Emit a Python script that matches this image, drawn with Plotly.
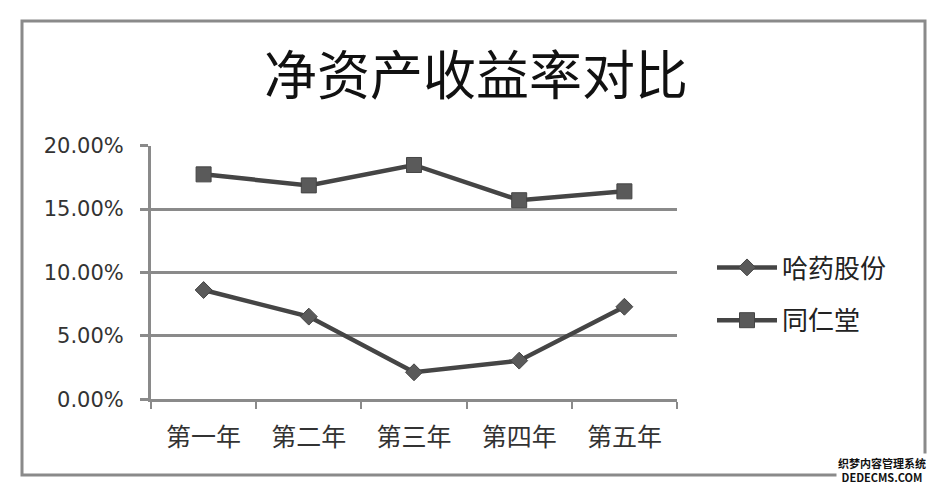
import plotly.graph_objects as go

# 净资产收益率对比 - values
years = ["第一年", "第二年", "第三年", "第四年", "第五年"]
hayao = [0.0862, 0.0652, 0.0213, 0.0305, 0.0730]      # 哈药股份
tongrentang = [0.1774, 0.1687, 0.1848, 0.1570, 0.1640]  # 同仁堂
y_ticks = [0, 0.05, 0.10, 0.15, 0.20]

W, H = 943, 490
OFF = 8  # page body margin shifts the figure by this much
cjk = "Noto Sans CJK SC, sans-serif"
num = "DejaVu Sans, sans-serif"


def fx(px):
    return (px - OFF) / W


def fy(py):
    return 1 - (py - OFF) / H


fig = go.Figure()

fig.add_trace(go.Scatter(
    x=years, y=hayao, name="哈药股份", legendgroup="a",
    mode="lines+markers",
    line=dict(color="#454545", width=4.5),
    marker=dict(symbol="diamond", size=13, color="#5a5a5a",
                line=dict(color="#444444", width=1)),
))
fig.add_trace(go.Scatter(
    x=years, y=tongrentang, name="同仁堂", legendgroup="b",
    mode="lines+markers",
    line=dict(color="#454545", width=4.5),
    marker=dict(symbol="square", size=15, color="#5a5a5a",
                line=dict(color="#444444", width=1)),
))

# outer chart border
fig.add_shape(type="rect", xref="paper", yref="paper",
              x0=fx(22), x1=fx(925), y0=fy(475), y1=fy(21),
              line=dict(color="#8a8a8a", width=3), fillcolor="rgba(0,0,0,0)")

# site watermark in the bottom-right corner
fig.add_annotation(text="<b>织梦内容管理系统</b><br><b>DEDECMS.COM</b>",
                   xref="paper", yref="paper",
                   x=fx(882), y=fy(470), xanchor="center", yanchor="middle",
                   showarrow=False, bgcolor="white", align="center",
                   font=dict(size=11, color="#111111", family=cjk))

fig.update_layout(
    width=W, height=H,
    margin=dict(l=0, r=0, t=0, b=0, autoexpand=False),
    paper_bgcolor="white", plot_bgcolor="white",
    font=dict(family=cjk, color="#222222"),
    title=dict(text="净资产收益率对比", x=fx(476), xanchor="center",
               y=fy(76), yanchor="middle",
               font=dict(size=53, color="#111111", family=cjk)),
    xaxis=dict(
        domain=[fx(151), fx(677)], automargin=False,
        range=[-0.5, len(years) - 0.5],
        showline=True, linecolor="#8a8a8a", linewidth=3,
        ticks="outside", tickson="boundaries", ticklen=7, tickwidth=2,
        tickcolor="#8a8a8a", showgrid=False, ticklabelstandoff=14,
        tickfont=dict(size=25, color="#333333", family=cjk),
    ),
    yaxis=dict(
        domain=[fy(399.3), fy(145.7)], automargin=False,
        range=[0, 0.2], tickvals=y_ticks, tickformat=".2%",
        showline=True, linecolor="#8a8a8a", linewidth=3,
        ticks="outside", ticklen=8, tickwidth=3, tickcolor="#8a8a8a",
        showgrid=True, gridcolor="#8a8a8a", gridwidth=3,
        zeroline=False, ticklabelstandoff=12,
        tickfont=dict(size=21, color="#333333", family=num),
    ),
    legend=dict(x=fx(712), xanchor="left", y=fy(294), yanchor="middle",
                tracegroupgap=16, itemwidth=60, bgcolor="rgba(0,0,0,0)",
                font=dict(size=26, color="#222222", family=cjk)),
)

fig.write_html("out.html")
